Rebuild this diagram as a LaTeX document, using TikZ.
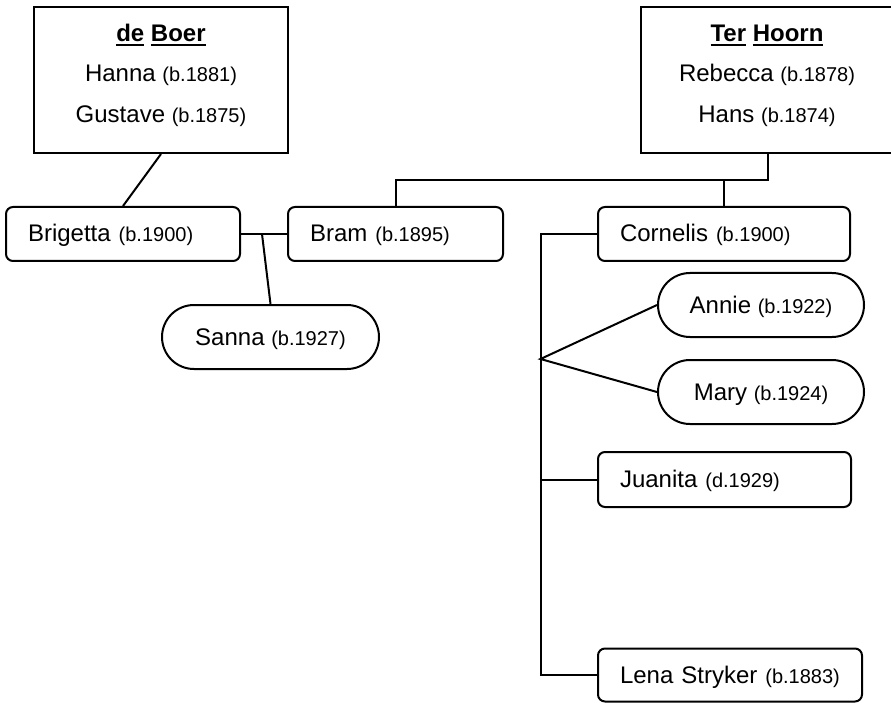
\documentclass[tikz,border=0pt]{standalone}
\usepackage{fontspec}
\setmainfont{Liberation Sans}
\newcommand\yr[1]{{\fontsize{20}{24}\selectfont #1}}
\newsavebox\ulbox
\newcommand\myul[1]{\sbox\ulbox{#1}\rlap{\rule[-4.5pt]{\wd\ulbox}{2pt}}\usebox\ulbox}
\begin{document}
\begin{tikzpicture}[x=1pt,y=1pt, font=\fontsize{24}{29}\selectfont, line width=2pt,
 person/.style={draw, rounded corners=7pt, minimum height=54pt, inner xsep=22pt, inner ysep=0pt, align=left, text height=17pt, text depth=1pt},
 pill/.style={draw, rounded corners=32pt, minimum height=64pt, align=center, inner sep=0pt, text height=17pt, text depth=1pt},
 family/.style={draw, inner sep=0pt, minimum width=254pt, minimum height=146pt},
 line/.style={anchor=base, inner sep=0pt}]
\useasboundingbox (0,0) rectangle (891,-703);

% family boxes
\node[family] (deboer) at (161,-80) {};
\node[line] (deboerT) at (161,-42) {\bfseries\myul{de} \myul{Boer}};
\node[line] (hanna) at (161,-82) {Hanna \yr{(b.1881)}};
\node[line] (gustave) at (161,-123) {Gustave \yr{(b.1875)}};

\node[family] (terhoorn) at (768,-80) {};
\node[line] (terhoornT) at (767,-42) {\bfseries\myul{Ter} \myul{Hoorn}};
\node[line] (rebecca) at (767,-82) {Rebecca \yr{(b.1878)}};
\node[line] (hans) at (767,-123) {Hans \yr{(b.1874)}};

% people
\node[person, text width=190pt] (brigetta) at (123,-234) {Brigetta \yr{(b.1900)}};
\node[person, text width=171pt] (bram) at (395.5,-234) {Bram \yr{(b.1895)}};
\node[person, text width=208pt] (cornelis) at (724,-234) {Cornelis \yr{(b.1900)}};
\node[person, text width=209pt, minimum height=55pt] (juanita) at (724.5,-479.5) {Juanita \yr{(d.1929)}};
\node[person, text width=220pt, minimum height=53pt] (lena) at (730,-675) {Lena Stryker \yr{(b.1883)}};

\node[pill, minimum width=217pt] (sanna) at (270.5,-337) {Sanna \yr{(b.1927)}};
\node[pill, minimum width=206pt] (annie) at (761,-305) {Annie \yr{(b.1922)}};
\node[pill, minimum width=206pt] (mary) at (761,-392) {Mary \yr{(b.1924)}};

% connectors
\draw (deboer.south) -- (brigetta.north);
\coordinate (barL) at (395.5,-180);
\draw (terhoorn.south) |- (barL) -- (bram.north);
\draw (cornelis.north) -- (cornelis.north |- barL);
\draw (brigetta.east) -- (bram.west);
\coordinate (bb) at (262,-234);
\draw (bb) -- (sanna.north);
\coordinate (trunkT) at (540.5,-234);
\coordinate (fork) at (540.5,-359);
\draw (cornelis.west) -- (trunkT) |- (lena.west);
\draw (juanita.west) -- (juanita.west -| trunkT);
\draw (annie.west) -- (fork) -- (mary.west);
\end{tikzpicture}
\end{document}
